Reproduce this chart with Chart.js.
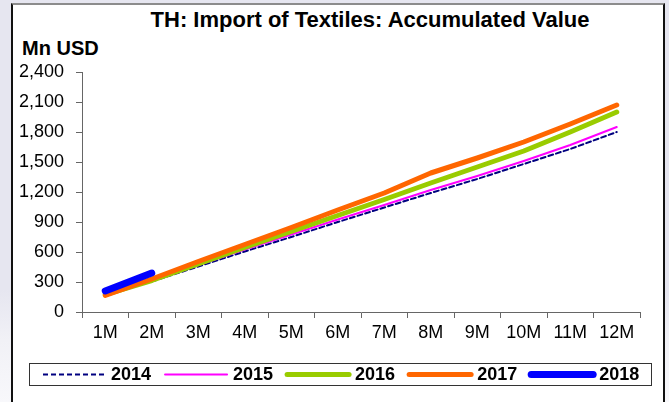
<!DOCTYPE html>
<html lang="en">
<head>
  <meta charset="UTF-8">
  <title>TH: Import of Textiles: Accumulated Value</title>
  <script src="https://cdn.jsdelivr.net/npm/chart.js"></script>
  <style>
    html, body {
      margin: 0;
      padding: 0;
      width: 669px;
      height: 402px;
      overflow: hidden;
      background: linear-gradient(to bottom, #e6e6f0 0, #e6e6f0 290px, #f1f1f6 340px, #f8f8fb 402px);
      font-family: "Liberation Sans", Arial, sans-serif;
    }

    /* white panel with the dark outline */
    .frame {
      position: absolute;
      left: 11px;
      top: 3px;
      width: 650px;
      height: 430px;
      background: #fff;
      border: 2px solid #111;
      border-top-color: #8c8c8c;
    }

    .title {
      position: absolute;
      left: 70px;
      width: 600px;
      top: 8px;
      text-align: center;
      font-weight: bold;
      font-size: 22px;
      line-height: 24px;
    }

    .unit {
      position: absolute;
      left: 22px;
      top: 37px;
      font-weight: bold;
      font-size: 20px;
      line-height: 22px;
    }

    #chart {
      position: absolute;
      left: 0;
      top: 0;
    }
  </style>
</head>
<body>
  <div class="frame"></div>
  <div class="title">TH: Import of Textiles: Accumulated Value</div>
  <div class="unit">Mn USD</div>
  <canvas id="chart" width="669" height="402"></canvas>

  <script>
    // accumulated import value, Mn USD
    const months = ['1M', '2M', '3M', '4M', '5M', '6M', '7M', '8M', '9M', '10M', '11M', '12M'];
    const imp2014 = [185, 305, 455, 605, 750, 900, 1045, 1190, 1330, 1480, 1630, 1800];
    const imp2015 = [180, 310, 470, 625, 775, 925, 1070, 1220, 1360, 1510, 1670, 1850];
    const imp2016 = [175, 315, 480, 645, 805, 965, 1125, 1290, 1450, 1610, 1800, 2000];
    const imp2017 = [165, 330, 505, 675, 845, 1020, 1190, 1390, 1540, 1700, 1880, 2070];
    const imp2018 = [210, 390];

    const FONT = '"Liberation Sans", Arial, sans-serif';

    // boxed legend drawn with each dataset's own line style
    const lineLegend = {
      id: 'lineLegend',
      afterDraw(chart) {
        const ctx = chart.ctx;
        const box = { x: 29, y: 363, w: 622, h: 22 };
        const cy = box.y + box.h / 2 + 0.5;
        ctx.save();
        ctx.strokeStyle = '#333';
        ctx.lineWidth = 1;
        ctx.strokeRect(box.x + 0.5, box.y + 0.5, box.w, box.h);

        ctx.font = 'bold 18px ' + FONT;
        ctx.textBaseline = 'middle';
        ctx.fillStyle = '#000';
        let x = 43;
        chart.data.datasets.forEach(ds => {
          ctx.beginPath();
          ctx.strokeStyle = ds.borderColor;
          ctx.lineWidth = ds.borderWidth;
          ctx.lineCap = ds.borderDash ? 'butt' : 'round';
          ctx.setLineDash(ds.borderDash || []);
          ctx.moveTo(x, cy);
          ctx.lineTo(x + 62, cy);
          ctx.stroke();
          ctx.setLineDash([]);
          x += 68;
          ctx.fillText(ds.label, x, cy + 1);
          x += ctx.measureText(ds.label).width + 14;
        });
        ctx.restore();
      }
    };

    const ctx = document.getElementById('chart').getContext('2d');
    new Chart(ctx, {
      type: 'line',
      data: {
        labels: months,
        datasets: [
          { label: '2014', data: imp2014, borderColor: '#000080', borderWidth: 2, borderDash: [5, 3], order: 4 },
          { label: '2015', data: imp2015, borderColor: '#ff00ff', borderWidth: 2, order: 3 },
          { label: '2016', data: imp2016, borderColor: '#99cc00', borderWidth: 5, order: 2 },
          { label: '2017', data: imp2017, borderColor: '#ff6600', borderWidth: 5, order: 1 },
          { label: '2018', data: imp2018, borderColor: '#0000ff', borderWidth: 7, order: 0 }
        ]
      },
      options: {
        responsive: false,
        animation: false,
        layout: { padding: { left: 0, right: 29, top: 72, bottom: 50 } },
        elements: {
          point: { radius: 0, hoverRadius: 0 },
          line: { tension: 0, borderCapStyle: 'round', borderJoinStyle: 'round' }
        },
        plugins: {
          legend: { display: false },
          tooltip: { enabled: false }
        },
        scales: {
          x: {
            offset: true,
            afterFit: s => { s.height = 40; },
            grid: { offset: true, drawOnChartArea: false, tickLength: 6, color: '#666' },
            border: { color: '#666' },
            ticks: { color: '#000', font: { family: FONT, size: 18 }, padding: 4, maxRotation: 0 }
          },
          y: {
            min: 0,
            max: 2400,
            afterFit: s => { s.width = 82; },
            grid: { drawOnChartArea: false, tickLength: 6, color: '#666' },
            border: { color: '#666' },
            ticks: {
              stepSize: 300,
              color: '#000',
              font: { family: FONT, size: 18 },
              padding: 12,
              callback: v => v.toLocaleString('en-US')
            }
          }
        }
      },
      plugins: [lineLegend]
    });
  </script>
</body>
</html>
